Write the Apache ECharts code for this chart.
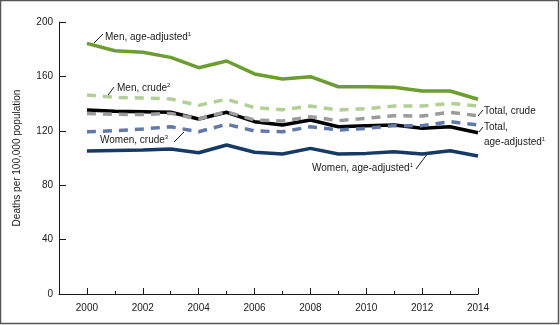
<!DOCTYPE html>
<html>
<head>
<meta charset="utf-8">
<script src="https://cdn.jsdelivr.net/npm/echarts@6/dist/echarts.min.js"></script>
<style>
  html, body { margin: 0; padding: 0; background: #fff; }
  #chart { width: 560px; height: 325px; }
</style>
</head>
<body>
<div id="chart"></div>
<script>
// 数据：2000-2014，每10万人死亡率
const years = ['1999', '2000', '2001', '2002', '2003', '2004', '2005', '2006', '2007',
               '2008', '2009', '2010', '2011', '2012', '2013', '2014'];
const yTicks = [0, 40, 80, 120, 160, 200];

const menAgeAdjusted   = [184.3, 178.9, 177.7, 174.0, 166.4, 171.3, 161.8, 158.1, 159.8, 152.4, 152.4, 152.0, 149.3, 149.3, 143.2];
const menCrude         = [146.3, 144.6, 144.1, 143.4, 138.7, 143.2, 137.0, 135.5, 138.2, 135.3, 136.3, 138.2, 138.2, 140.2, 138.2];
const totalAgeAdjusted = [135.3, 134.3, 134.0, 133.6, 128.7, 133.6, 126.7, 124.3, 127.9, 123.0, 123.8, 124.3, 121.8, 123.0, 118.6];
const totalCrude       = [132.8, 132.1, 132.0, 132.8, 128.7, 134.0, 127.9, 127.2, 130.4, 127.4, 129.2, 131.1, 130.9, 133.6, 131.1];
const womenCrude       = [119.3, 120.1, 121.3, 123.0, 119.3, 124.8, 119.9, 119.3, 123.0, 120.6, 121.8, 123.8, 123.8, 126.7, 124.3];
const womenAgeAdjusted = [105.1, 105.6, 105.9, 106.6, 103.9, 109.6, 104.2, 102.9, 107.1, 102.9, 103.4, 104.6, 102.9, 105.4, 101.5];

const FONT = '"Liberation Sans", Arial, sans-serif';
const FS = 10;

const chart = echarts.init(document.getElementById('chart'), null, { renderer: 'canvas' });

// 1999 只是轴的起点，没有数据
function withPad(arr) {
    return [null].concat(arr);
}

function lineSeries(name, data, color, dashed, z) {
    return {
        name: name,
        type: 'line',
        data: withPad(data),
        symbol: 'none',
        z: z,
        lineStyle: {
            color: color,
            width: 3.5,
            type: dashed ? [9, 7] : 'solid',
            cap: 'butt'
        }
    };
}

// 带上标的注释文字
function labelText(x, y, text, sup) {
    return {
        type: 'text',
        x: x,
        y: y,
        style: {
            text: '{t|' + text + '}' + (sup ? '{s|' + sup + '}' : ''),
            rich: {
                t: { fontFamily: FONT, fontSize: FS, fill: '#1a1a1a', lineHeight: 12 },
                s: { fontFamily: FONT, fontSize: 6, fill: '#1a1a1a', lineHeight: 12, verticalAlign: 'top' }
            },
            verticalAlign: 'middle'
        }
    };
}

function leader(x1, y1, x2, y2) {
    return {
        type: 'line',
        shape: { x1: x1, y1: y1, x2: x2, y2: y2 },
        style: { stroke: '#1a1a1a', lineWidth: 1 }
    };
}

const option = {
    animation: false,
    grid: { left: 59, right: 82, top: 22, bottom: 31, containLabel: false },
    xAxis: [
        {
            type: 'category',
            data: years,
            boundaryGap: false,
            axisLine: { lineStyle: { color: '#1a1a1a', width: 1 } },
            axisTick: {
                inside: true,
                length: 6,
                lineStyle: { color: '#1a1a1a' },
                interval: (i, v) => i > 0 && (parseInt(v) % 2 === 0)
            },
            axisLabel: {
                interval: (i, v) => i > 0 && (parseInt(v) % 2 === 0),
                color: '#1a1a1a',
                fontFamily: FONT,
                fontSize: FS,
                margin: 9
            },
            splitLine: { show: false }
        },
        {
            type: 'category',
            data: years,
            boundaryGap: false,
            position: 'bottom',
            axisLine: { show: false },
            axisTick: {
                inside: true,
                length: 3,
                lineStyle: { color: '#1a1a1a' },
                interval: (i, v) => i > 0 && (parseInt(v) % 2 === 1)
            },
            axisLabel: { show: false },
            splitLine: { show: false }
        }
    ],
    yAxis: {
        type: 'value',
        min: yTicks[0],
        max: yTicks[yTicks.length - 1],
        interval: 40,
        name: 'Deaths per 100,000 population',
        nameLocation: 'middle',
        nameGap: 37,
        nameTextStyle: { color: '#1a1a1a', fontFamily: FONT, fontSize: FS },
        axisLine: { show: true, lineStyle: { color: '#1a1a1a', width: 1 } },
        axisTick: { show: true, inside: true, length: 7, lineStyle: { color: '#1a1a1a' } },
        axisLabel: { color: '#1a1a1a', fontFamily: FONT, fontSize: FS, margin: 6 },
        splitLine: { show: false }
    },
    series: [
        lineSeries('Men, age-adjusted', menAgeAdjusted, '#6b9e2f', false, 2),
        lineSeries('Men, crude', menCrude, '#b2d095', true, 2),
        lineSeries('Total, age-adjusted', totalAgeAdjusted, '#000000', false, 2),
        lineSeries('Total, crude', totalCrude, '#9b9b9b', true, 3),
        lineSeries('Women, crude', womenCrude, '#6079a9', true, 3),
        lineSeries('Women, age-adjusted', womenAgeAdjusted, '#163a66', false, 3)
    ],
    graphic: [
        // 外框
        {
            type: 'rect',
            shape: { x: 0.5, y: 0.5, width: 558, height: 323 },
            style: { fill: 'none', stroke: '#555', lineWidth: 1.5 },
            z: 10
        },
        labelText(105, 37, 'Men, age-adjusted', '1'),
        leader(94, 43, 103, 34),
        labelText(117, 88, 'Men, crude', '2'),
        leader(106, 98, 114, 87),
        labelText(100, 140, 'Women, crude', '3'),
        leader(174, 142, 184, 132),
        labelText(484, 111, 'Total, crude'),
        leader(478, 116, 483, 110),
        labelText(484, 127, 'Total,'),
        labelText(484, 142, 'age-adjusted', '1'),
        leader(479, 132, 483, 127),
        labelText(312, 168, 'Women, age-adjusted', '1'),
        leader(416, 169, 428, 153)
    ]
};

chart.setOption(option);
</script>
</body>
</html>
